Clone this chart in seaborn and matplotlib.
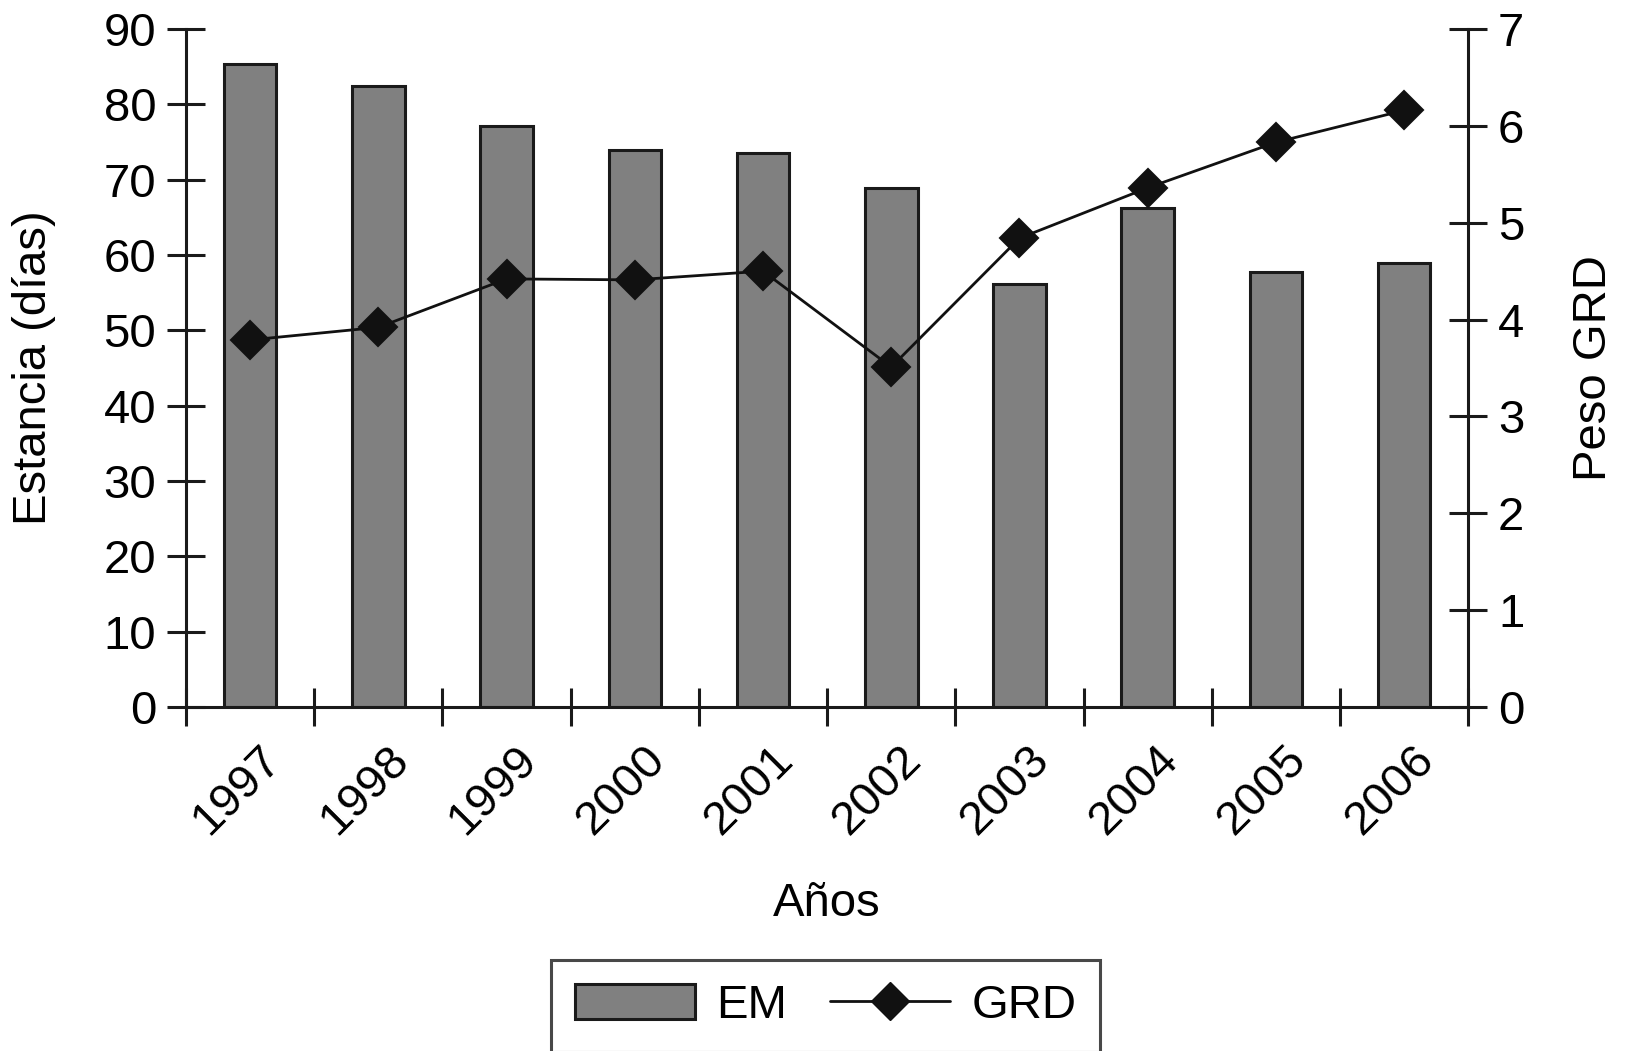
import numpy as np
import pandas as pd
import matplotlib
matplotlib.use("Agg")
import matplotlib.pyplot as plt
import seaborn as sns
from matplotlib.patches import Patch
from matplotlib.lines import Line2D
from matplotlib.transforms import ScaledTranslation

years = ["1997", "1998", "1999", "2000", "2001", "2002", "2003", "2004", "2005", "2006"]
em = [85.3, 82.4, 77.1, 73.9, 73.5, 68.9, 56.1, 66.2, 57.7, 58.9]
grd = [3.79, 3.92, 4.42, 4.41, 4.50, 3.51, 4.84, 5.36, 5.83, 6.16]

df = pd.DataFrame({"Año": years, "EM": em, "GRD": grd})

sns.set_style("white")
plt.rcParams["font.family"] = ["Liberation Sans", "DejaVu Sans"]
plt.rcParams["font.size"] = 34
plt.rcParams["text.color"] = "black"
plt.rcParams["axes.labelcolor"] = "black"
plt.rcParams["xtick.color"] = "black"
plt.rcParams["ytick.color"] = "black"

fig = plt.figure(figsize=(16.25, 10.51), dpi=100)
ax = fig.add_axes([0.1145, 0.3273, 0.789, 0.6451])

sns.barplot(data=df, x="Año", y="EM", color="#808080", saturation=1,
            width=0.41, edgecolor="#1a1a1a", linewidth=2.2, ax=ax)
ax.set_ylim(0, 90)
ax.set_xlim(-0.5, len(years) - 0.5)

ax2 = ax.twinx()
sns.pointplot(data=df, x="Año", y="GRD", color="#111111", markers="D",
              linestyles="-", linewidth=2, markersize=19, ax=ax2)
ax2.set_ylim(0, 7)
ax2.set_xlim(-0.5, len(years) - 0.5)

# only left, bottom and right axis lines
ax.spines["top"].set_visible(False)
ax2.spines["top"].set_visible(False)
ax.spines["right"].set_visible(False)
ax2.spines["left"].set_visible(False)
ax2.spines["bottom"].set_visible(False)
for a, s in ((ax, "left"), (ax, "bottom"), (ax2, "right")):
    a.spines[s].set_linewidth(2.2)
    a.spines[s].set_color("#1a1a1a")

ax.set_yticks(np.arange(0, 91, 10))
ax2.set_yticks(np.arange(0, 8, 1))
ax.tick_params(axis="y", direction="inout", length=27, width=2.2, color="#1a1a1a",
               labelsize=34, pad=8, left=True)
ax2.tick_params(axis="y", direction="inout", length=27, width=2.2, color="#1a1a1a",
                labelsize=34, pad=8, right=True)

# x ticks at category boundaries, labels at centres
ax.set_xticks(np.arange(-0.5, len(years), 1.0))
ax.set_xticklabels([])
ax.set_xticks(np.arange(len(years)), minor=True)
ax.set_xticklabels(years, minor=True, rotation=45, ha="right", rotation_mode="anchor")
ax.tick_params(axis="x", which="major", direction="inout", length=27, width=2.2,
               color="#1a1a1a", bottom=True)
ax.tick_params(axis="x", which="minor", length=0, labelsize=34, pad=22)
for lbl in ax.get_xticklabels(minor=True):
    lbl.set_transform(lbl.get_transform() + ScaledTranslation(0.08, 0, fig.dpi_scale_trans))

ax2.set_xlabel("")
ax.set_xlabel("Años", fontsize=34, labelpad=28)
ax.set_ylabel("Estancia (días)", fontsize=34, labelpad=34)
ax2.set_ylabel("Peso GRD", fontsize=34, labelpad=34)

handles = [
    Patch(facecolor="#808080", edgecolor="#1a1a1a", linewidth=2.2, label="EM"),
    Line2D([0], [0], color="#111111", linewidth=2, marker="D", markersize=19, label="GRD"),
]
leg = fig.legend(handles=handles, loc="center", bbox_to_anchor=(0.508, 0.0428), ncol=2,
                 frameon=True, fancybox=False, edgecolor="#1a1a1a", fontsize=34,
                 handlelength=2.55, handleheight=0.75, columnspacing=0.9,
                 handletextpad=0.45, borderpad=0.5, borderaxespad=0)
leg.get_frame().set_linewidth(2.2)

fig.savefig("out.png", dpi=100, facecolor="white")
